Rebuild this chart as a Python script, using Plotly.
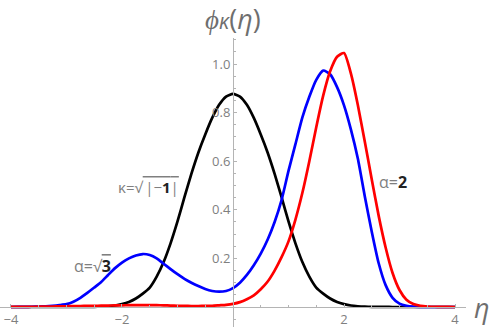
import plotly.graph_objects as go

eta = [-4.0 + 0.125 * i for i in range(65)]

phi_kappa_half = [0.877, 0.866, 0.832, 0.778, 0.71, 0.635, 0.548, 0.452, 0.352, 0.262, 0.185,
                  0.125, 0.08, 0.055, 0.035, 0.021, 0.012, 0.006, 0.003, 0.0015, 0.0008, 0.0004,
                  0.0002, 0.0001, 0.0, 0.0, 0.0, 0.0, 0.0, 0.0, 0.0, 0.0, 0.0]
phi_kappa = phi_kappa_half[::-1] + phi_kappa_half[1:]

phi_sqrt3 = [0.0, 0.0002, 0.0005, 0.001, 0.002, 0.003, 0.005, 0.008, 0.012, 0.022, 0.038, 0.058,
             0.08, 0.103, 0.132, 0.16, 0.183, 0.2, 0.212, 0.218, 0.214, 0.2, 0.178, 0.156,
             0.135, 0.116, 0.1, 0.086, 0.074, 0.066, 0.063, 0.066, 0.078, 0.1, 0.132, 0.172,
             0.22, 0.278, 0.35, 0.44, 0.56, 0.67, 0.78, 0.865, 0.935, 0.973, 0.958, 0.905,
             0.83, 0.73, 0.61, 0.455, 0.31, 0.18, 0.09, 0.038, 0.014, 0.005, 0.0015, 0.0005,
             0.0, 0.0, 0.0, 0.0, 0.0]

phi_2 = [0.0005, 0.0006, 0.0008, 0.001, 0.0012, 0.0015, 0.002, 0.0025, 0.003, 0.0035, 0.004,
         0.0045, 0.005, 0.0055, 0.006, 0.0065, 0.007, 0.0075, 0.008, 0.008, 0.008, 0.0075,
         0.007, 0.006, 0.005, 0.0045, 0.004, 0.004, 0.0045, 0.005, 0.007, 0.009, 0.013,
         0.02, 0.032, 0.048, 0.073, 0.105, 0.15, 0.205, 0.27, 0.36, 0.47, 0.6, 0.74,
         0.87, 0.97, 1.03, 1.045, 0.96, 0.83, 0.68, 0.525, 0.375, 0.245, 0.14, 0.07, 0.03,
         0.012, 0.005, 0.002, 0.001, 0.0005, 0.0002, 0.0]

x_ticks = [-4, -2, 2, 4]
x_tick_text = ["\u22124", "\u22122", "2", "4"]
y_ticks = [0.2, 0.4, 0.6, 0.8, 1.0]
y_tick_text = ["0.2", "0.4", "0.6", "0.8", "1.0"]

GRAY = "#7f7f7f"
AX = "#b4b4b4"
FONT = "Open Sans"

fig = go.Figure()
for ys, col in [(phi_kappa, "black"), (phi_sqrt3, "#0000ff"), (phi_2, "#ff0000")]:
    fig.add_trace(go.Scatter(x=eta, y=ys, mode="lines",
                             line=dict(color=col, width=2.7, shape="spline", smoothing=0.6),
                             showlegend=False, hoverinfo="skip"))

fig.update_layout(
    width=491, height=327,
    margin=dict(l=0, r=25, t=38, b=0, autoexpand=False),
    paper_bgcolor="white", plot_bgcolor="white",
    xaxis=dict(range=[-4.198, 4.198], anchor="free", position=0.0692, automargin=False,
               showgrid=False, zeroline=False, showline=True, linecolor=AX, linewidth=1,
               tickmode="array", tickvals=x_ticks, ticktext=x_tick_text,
               ticks="inside", ticklen=3, tickcolor=AX,
               minor=dict(dtick=0.5, ticks="inside", ticklen=2, tickcolor=AX),
               tickfont=dict(family=FONT, size=13, color=GRAY)),
    yaxis=dict(range=[-0.0823, 1.107], anchor="free", position=0.5, automargin=False,
               showgrid=False, zeroline=False, showline=True, linecolor=AX, linewidth=1,
               tickmode="array", tickvals=y_ticks, ticktext=y_tick_text,
               ticks="inside", ticklen=3, tickcolor=AX,
               minor=dict(dtick=0.05, ticks="inside", ticklen=2, tickcolor=AX),
               tickfont=dict(family=FONT, size=13, color=GRAY)),
)

fig.add_annotation(xref="x", yref="paper", x=0, y=1.0, yshift=20, yanchor="middle",
                   text="<i>\u03d5</i><span style='font-size:21px'><i>\u03ba</i></span>(<i>\u03b7</i>)",
                   showarrow=False, font=dict(family=FONT, size=27, color="#6e6e6e"))
fig.add_annotation(xref="paper", yref="y", x=1.0, y=0, xshift=16, xanchor="center",
                   text="<i>\u03b7</i>", showarrow=False,
                   font=dict(family=FONT, size=27, color="#6e6e6e"))

fig.add_annotation(x=-0.93, y=0.494, xref="x", yref="y", xanchor="right", showarrow=False,
                   text="\u03ba=\u221a<span style='text-decoration:overline'>\u2009|\u2212<b style='color:#222'>1</b>|</span>",
                   font=dict(family=FONT, size=15, color=GRAY))
fig.add_annotation(x=-2.16, y=0.17, xref="x", yref="y", xanchor="right", showarrow=False,
                   text="\u03b1=\u221a<span style='text-decoration:overline'><b style='color:#222'>3</b></span>",
                   font=dict(family=FONT, size=16, color=GRAY))
fig.add_annotation(x=2.6, y=0.514, xref="x", yref="y", xanchor="left", showarrow=False,
                   text="\u03b1=<b style='color:#222'>2</b>",
                   font=dict(family=FONT, size=16, color=GRAY))

# remove the browser's default 8 px body margin so the figure fills the window
fig.write_html("out.html", config={"displayModeBar": False},
               post_script="document.body.style.margin='0';document.body.style.overflow='hidden';")
